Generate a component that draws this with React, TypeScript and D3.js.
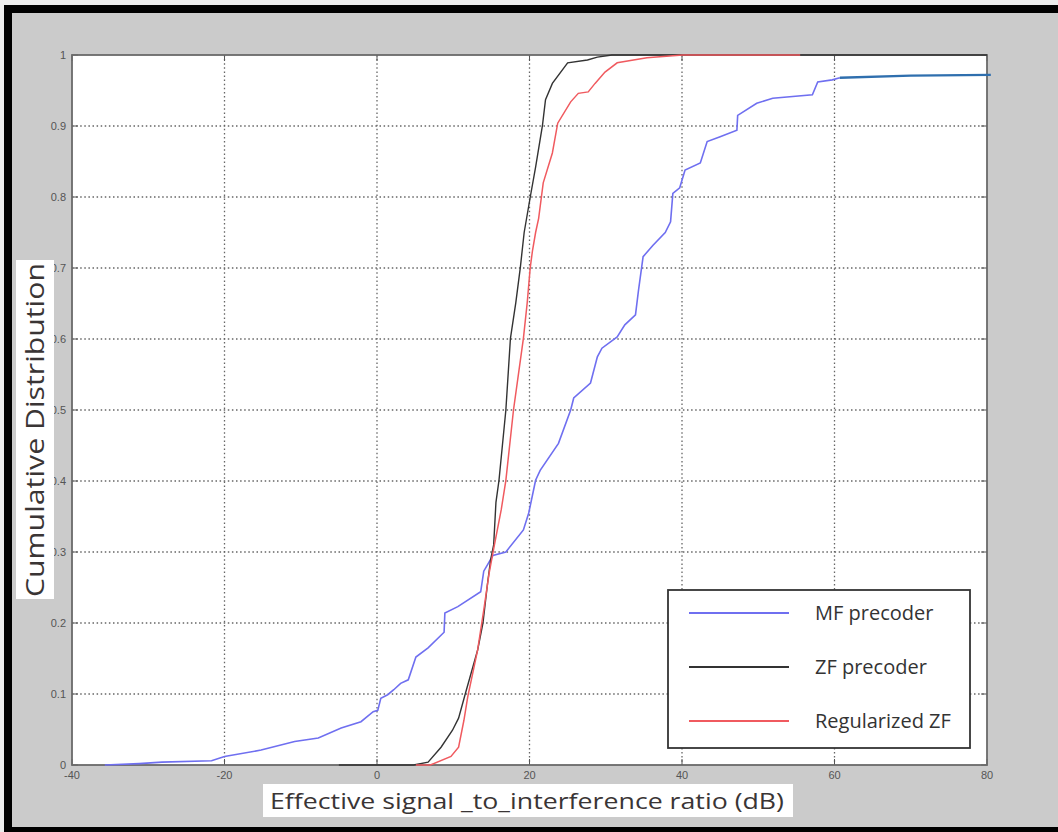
import React from 'react';
import * as d3 from 'd3';

// ---- data ----
const xTicks = [-40, -20, 0, 20, 40, 60, 80];
const yTicks = [0, 0.1, 0.2, 0.3, 0.4, 0.5, 0.6, 0.7, 0.8, 0.9, 1];
const yTickLabels = ['0', '0.1', '0.2', '0.3', '0.4', '0.5', '0.6', '0.7', '0.8', '0.9', '1'];

const seriesNames = ['MF precoder', 'ZF precoder', 'Regularized ZF'];

const mfX = [-35.7, -31.2, -28.2, -21.7, -20, -15.2, -10.8, -7.7, -4.7, -2.1, -0.5, 0.1, 0.5, 1.4, 2.2, 3.1, 4.1, 5.1, 6.7, 8.8, 8.9, 10.6, 13.6, 14, 15.2, 16.9, 19.2, 19.9, 20.8, 21.4, 23.8, 25.4, 25.8, 28, 28.9, 29.5, 31.5, 32.5, 33.9, 34.3, 34.9, 36.2, 37.8, 38.5, 38.8, 39.7, 40.4, 42.4, 43.3, 45, 47.2, 47.3, 49.8, 51.9, 57.1, 57.8, 59.7, 60.7];
const mfY = [0, 0.002, 0.004, 0.006, 0.012, 0.021, 0.033, 0.038, 0.052, 0.061, 0.075, 0.077, 0.094, 0.099, 0.106, 0.115, 0.12, 0.152, 0.165, 0.187, 0.214, 0.223, 0.244, 0.273, 0.295, 0.3, 0.331, 0.355, 0.401, 0.415, 0.453, 0.5, 0.517, 0.538, 0.575, 0.587, 0.603, 0.62, 0.634, 0.669, 0.716, 0.732, 0.75, 0.765, 0.805, 0.813, 0.838, 0.848, 0.878, 0.885, 0.894, 0.915, 0.932, 0.939, 0.944, 0.962, 0.965, 0.968];
const mfTailX = [60.7, 70, 80.5];
const mfTailY = [0.968, 0.971, 0.972];

const zfX = [-5, 4.8, 6.7, 8.4, 9.9, 10.7, 11.6, 13.2, 13.9, 14.5, 14.9, 15.3, 15.6, 16, 16.9, 17.5, 18.2, 18.8, 19.3, 20.1, 20.8, 21.7, 22.1, 23, 25, 27.6, 28.9, 30.8, 80];
const zfY = [0, 0, 0.004, 0.025, 0.049, 0.066, 0.101, 0.162, 0.2, 0.256, 0.289, 0.31, 0.37, 0.401, 0.5, 0.601, 0.651, 0.701, 0.75, 0.8, 0.842, 0.901, 0.937, 0.96, 0.989, 0.993, 0.997, 1, 1];

const rzfX = [5.1, 7, 9.7, 10.7, 11.4, 11.9, 13.2, 14, 14.7, 15.4, 16.3, 16.9, 17.9, 19.2, 19.7, 20.1, 20.4, 20.8, 21.2, 21.8, 23, 23.7, 25.4, 26.4, 27.7, 28.6, 29.9, 31.5, 35.4, 38.8, 40.1, 55.5];
const rzfY = [0, 0, 0.012, 0.025, 0.063, 0.096, 0.162, 0.218, 0.27, 0.31, 0.36, 0.401, 0.5, 0.601, 0.651, 0.701, 0.725, 0.75, 0.77, 0.82, 0.862, 0.904, 0.934, 0.946, 0.948, 0.96, 0.976, 0.989, 0.996, 0.999, 1, 1];

const colors = ['#6f6ff0', '#333333', '#f05a5f'];
const tailColor = '#2f6fae';

export default function App() {
  const W = 1058;
  const H = 832;
  const L = 72, R = 987, T = 55, B = 765;
  const x = d3.scaleLinear().domain([-40, 80]).range([L, R]);
  const y = d3.scaleLinear().domain([0, 1]).range([B, T]);

  const line = d3.line<[number, number]>().x((d) => x(d[0])).y((d) => y(d[1]));
  const zip = (xs: number[], ys: number[]) => xs.map((v, i) => [v, ys[i]] as [number, number]);

  const mfPath = line(zip(mfX, mfY)) || '';
  const mfTail = line(zip(mfTailX, mfTailY)) || '';
  const zfPath = line(zip(zfX, zfY)) || '';
  const rzfPath = line(zip(rzfX, rzfY)) || '';

  const tickFont = '"Liberation Sans", Arial, sans-serif';
  const labelFont = '"Open Sans", "Noto Sans", sans-serif';

  const legendX = 668, legendY = 590, legendW = 302, legendH = 158;
  const legendRows = [613, 667, 721];

  return (
    <svg width={W} height={H} style={{ position: 'absolute', left: 0, top: 0 }} xmlns="http://www.w3.org/2000/svg">
      {/* background */}
      <rect x={0} y={0} width={W} height={H} fill="#ececec" />
      <rect x={4} y={5} width={W - 4} height={H - 5} fill="#000" />
      <rect x={12} y={13} width={W - 12} height={814} fill="#cbcbcb" />

      {/* plot area */}
      <rect x={L} y={T} width={R - L} height={B - T} fill="#fff" />

      {/* grid */}
      <g stroke="#666" strokeWidth={1.3} strokeDasharray="1.5,2.6">
        {xTicks.slice(1, -1).map((t) => (
          <line key={'gx' + t} x1={x(t)} x2={x(t)} y1={T} y2={B} />
        ))}
        {yTicks.slice(1, -1).map((t) => (
          <line key={'gy' + t} x1={L} x2={R} y1={y(t)} y2={y(t)} />
        ))}
      </g>

      {/* inner ticks */}
      <g stroke="#555" strokeWidth={1}>
        {xTicks.map((t) => (
          <g key={'tx' + t}>
            <line x1={x(t)} x2={x(t)} y1={B} y2={B - 6} />
            <line x1={x(t)} x2={x(t)} y1={T} y2={T + 6} />
          </g>
        ))}
        {yTicks.map((t) => (
          <g key={'ty' + t}>
            <line x1={L} x2={L + 6} y1={y(t)} y2={y(t)} />
            <line x1={R} x2={R - 6} y1={y(t)} y2={y(t)} />
          </g>
        ))}
      </g>

      {/* frame */}
      <rect x={L} y={T} width={R - L} height={B - T} fill="none" stroke="#6a6a6a" strokeWidth={1.8} />

      {/* curves */}
      <path d={mfPath} fill="none" stroke={colors[0]} strokeWidth={1.6} />
      <path d={mfTail} fill="none" stroke={tailColor} strokeWidth={2.4} />
      <path d={zfPath} fill="none" stroke={colors[1]} strokeWidth={1.4} />
      <path d={rzfPath} fill="none" stroke={colors[2]} strokeWidth={1.5} />

      {/* tick labels */}
      <g fontFamily={tickFont} fontSize={11} fill="#555">
        {yTicks.map((t, i) => (
          <text key={'ly' + t} x={66} y={y(t) + 4} textAnchor="end">{yTickLabels[i]}</text>
        ))}
        {xTicks.map((t) => (
          <text key={'lx' + t} x={x(t)} y={779} textAnchor="middle">{t}</text>
        ))}
      </g>

      {/* y-axis label */}
      <rect x={16} y={260} width={38} height={339} fill="#fff" />
      <text
        transform={`translate(44, 430) rotate(-90)`}
        textAnchor="middle"
        fontFamily={labelFont}
        fontSize={25}
        fill="#3a3535"
        textLength={334}
        lengthAdjust="spacingAndGlyphs"
      >
        Cumulative Distribution
      </text>

      {/* x-axis label */}
      <rect x={263} y={784} width={530} height={33} fill="#fff" />
      <text
        x={270}
        y={809}
        fontFamily={labelFont}
        fontSize={22}
        fill="#3a3535"
        textLength={514}
        lengthAdjust="spacingAndGlyphs"
      >
        Effective signal _to_interference ratio (dB)
      </text>

      {/* legend */}
      <rect x={legendX} y={legendY} width={legendW} height={legendH} fill="#fff" stroke="#333" strokeWidth={1.8} />
      {seriesNames.map((name, i) => (
        <g key={name}>
          <line x1={689} x2={789} y1={legendRows[i]} y2={legendRows[i]} stroke={colors[i]} strokeWidth={1.8} />
          <text x={815} y={legendRows[i] + 7} fontFamily={labelFont} fontSize={20} fill="#333">{name}</text>
        </g>
      ))}
    </svg>
  );
}
